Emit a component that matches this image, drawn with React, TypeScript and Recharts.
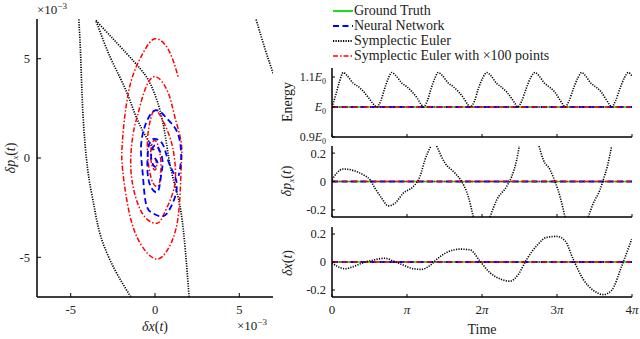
import React from "react";
import { LineChart, Line, XAxis, YAxis } from "recharts";

const FONT = '"Liberation Serif", "DejaVu Serif", serif';
const INK = "#222";
const GREEN = "#00dd00";
const BLUE = "#0000ff";
const RED = "#ff0000";
const BLACK = "#000";

// ---- phase plot (units of 1e-3), clockwise spirals ----
const nnPhase = [
  [0.0, 0.0], [0.15, -0.25], [0.02, -0.45], [-0.18, -0.2], [-0.22, 0.25], [-0.05, 0.62],
  [0.22, 0.45], [0.45, -0.15], [0.35, -0.95], [0.16, -1.69], [-0.25, -1.45], [-0.45, -0.6],
  [-0.4, 0.45], [-0.14, 0.95], [0.45, 0.7], [0.85, -0.3], [1.3, -1.4], [0.85, -2.61],
  [0.36, -2.95], [-0.14, -2.78], [-0.54, -2.28], [-0.73, -0.77], [-0.83, 0.57], [-0.54, 1.74],
  [0.06, 2.41], [0.75, 1.95], [1.35, 1.24], [1.55, 0.07], [1.4, -0.9],
];

const se100Phase = [
  [0.0, 0.0], [0.1, -0.35], [0.0, -0.6], [-0.2, -0.3], [-0.25, 0.35], [-0.1, 0.85],
  [0.15, 0.7], [0.35, -0.2], [0.3, -1.1], [0.16, -1.44], [-0.15, -1.2], [-0.4, -0.2],
  [-0.44, 1.0], [-0.25, 2.0], [0.0, 2.41], [0.4, 2.0], [0.9, 1.0], [1.15, 0.0],
  [1.15, -1.44], [0.55, -2.78], [0.16, -3.28], [-0.45, -3.1], [-1.03, -2.28], [-1.43, -0.6],
  [-1.3, 1.2], [-1.03, 2.16], [-0.64, 3.33], [0.0, 4.1], [0.76, 3.33], [1.15, 2.16],
  [1.55, 0.8], [1.55, -0.6], [1.35, -3.1], [0.76, -4.6], [0.12, -5.09], [-0.64, -4.6],
  [-1.43, -3.1], [-1.92, -0.6], [-1.95, 0.6], [-1.83, 1.82], [-1.43, 3.83], [-0.7, 5.3],
  [0.0, 6.0], [0.8, 5.45], [1.37, 4.1],
];

const sePhaseA = [[-0.06, 0.4], [-1.01, 1.86], [-1.73, 3.42], [-2.62, 5.01], [-3.51, 6.93]];
const sePhaseB = [[-3.51, 6.93], [-1.23, 4.84], [-0.24, 3.67], [0.46, 1.82], [0.95, -0.6], [1.55, -2.76], [2.02, -7.0]];
const sePhaseC = [[-4.52, 6.98], [-4.4, 4.92], [-4.27, 2.16], [-3.99, -0.6], [-3.62, -2.4], [-3.21, -3.97], [-2.4, -5.6], [-1.43, -7.0]];
const sePhaseD = [[6.0, 6.97], [6.55, 5.43], [7.05, 4.17]];

const phaseTicks = [-5, 0, 5];

// ---- time panels (time in units of pi) ----
const timeTicks = [0, 1, 2, 3, 4];
const timeLabels = ["0", "π", "2π", "3π", "4π"];

const truthTime = [0, 4];
const truthEnergy = [1, 1];
const truthDelta = [0, 0];

const seEnergyTime = [
  0, 0.05, 0.1, 0.151, 0.2, 0.28, 0.35, 0.42, 0.49, 0.55, 0.596,
  0.65, 0.7, 0.75, 0.796, 0.85, 0.93, 1.0, 1.07, 1.14, 1.19, 1.217,
  1.27, 1.32, 1.37, 1.417, 1.47, 1.55, 1.62, 1.69, 1.76, 1.81, 1.84,
  1.9, 1.95, 2.01, 2.063, 2.12, 2.19, 2.26, 2.33, 2.4, 2.45, 2.476,
  2.53, 2.59, 2.65, 2.707, 2.76, 2.83, 2.9, 2.97, 3.03, 3.08, 3.107,
  3.16, 3.22, 3.28, 3.329, 3.38, 3.45, 3.52, 3.59, 3.65, 3.7, 3.729,
  3.78, 3.84, 3.9, 3.951, 4.0,
];
const seEnergy = [
  1.0, 1.04, 1.085, 1.115, 1.105, 1.08, 1.068, 1.052, 1.03, 1.01, 1.0,
  1.02, 1.06, 1.095, 1.115, 1.105, 1.08, 1.067, 1.05, 1.028, 1.008, 1.0,
  1.02, 1.06, 1.095, 1.115, 1.105, 1.08, 1.067, 1.05, 1.028, 1.008, 1.0,
  1.02, 1.06, 1.097, 1.115, 1.104, 1.08, 1.066, 1.05, 1.027, 1.008, 1.0,
  1.02, 1.062, 1.098, 1.115, 1.104, 1.08, 1.066, 1.05, 1.027, 1.008, 1.0,
  1.02, 1.062, 1.098, 1.115, 1.104, 1.08, 1.066, 1.05, 1.027, 1.008, 1.0,
  1.02, 1.062, 1.098, 1.115, 1.103,
];

const seMomentumTime = [
  0, 0.063, 0.151, 0.284, 0.417, 0.507, 0.573, 0.663, 0.751, 0.84, 0.951, 1.084, 1.173, 1.24, 1.32,
  1.36,
  1.396, 1.507, 1.64, 1.729, 1.817, 1.884,
  2.0,
  2.107, 2.196, 2.329, 2.396, 2.463, 2.497,
  2.63,
  2.76, 2.817, 2.907, 2.973, 3.04, 3.107,
  3.26,
  3.417, 3.484, 3.573, 3.617, 3.671, 3.729,
];
const seMomentum = [
  0.012, 0.059, 0.088, 0.078, 0.047, 0.012, -0.047, -0.118, -0.172, -0.153, -0.082, -0.035, 0.035, 0.153, 0.25,
  null,
  0.25, 0.13, 0.059, 0.0, -0.106, -0.25,
  null,
  -0.25, -0.13, -0.035, 0.035, 0.153, 0.25,
  null,
  0.25, 0.153, 0.083, 0.0, -0.106, -0.25,
  null,
  -0.25, -0.153, -0.059, 0.012, 0.106, 0.25,
];

const sePositionTime = [
  0, 0.063, 0.173, 0.284, 0.417, 0.551, 0.707, 0.817, 0.951, 1.084, 1.196, 1.307, 1.396, 1.529,
  1.707, 1.84, 1.973, 2.107, 2.263, 2.373, 2.484, 2.596, 2.729, 2.863, 2.996, 3.107, 3.217,
  3.351, 3.484, 3.617, 3.729, 3.863, 3.996,
];
const sePosition = [
  -0.005, -0.029, -0.048, -0.033, -0.005, 0.014, 0.027, 0.007, -0.022, -0.048, -0.053, -0.024, 0.019, 0.068,
  0.092, 0.087, 0.007, -0.077, -0.125, -0.137, -0.089, 0.019, 0.116, 0.176, 0.183, 0.152, 0.019,
  -0.125, -0.202, -0.233, -0.202, -0.029, 0.164,
];

const deltaTicks = [-0.2, 0, 0.2];
const energyTicks = [0.9, 1.0, 1.1];

const toXY = (pts: number[][]) => pts.map(([x, y]) => ({ x, y }));
const toTV = (ts: number[], vs: (number | null)[]) => ts.map((t, i) => ({ t, v: vs[i] }));

const DOT = "1.2 1.3";
const DASH = "6 3.5";
const DASHDOT = "5 2 1.5 2";

const axisStroke = { stroke: "#000", strokeWidth: 1.5 };
const tickStroke = { stroke: "#000", strokeWidth: 1 };

function PiTick({ x, y, payload, show }: any) {
  if (!show) return null;
  const i = timeTicks.indexOf(payload.value);
  const label = timeLabels[i] ?? "";
  const num = label.replace("π", "");
  const hasPi = label.includes("π");
  return (
    <text x={x} y={y} dy="0.71em" textAnchor="middle" fontSize={13} fill={INK} fontFamily={FONT}>
      {num}
      {hasPi && <tspan fontStyle="italic">π</tspan>}
    </text>
  );
}

function EnergyTick({ x, y, payload }: any) {
  const v = payload.value;
  const prefix = v === 1 ? "" : v.toFixed(1);
  return (
    <text x={x} y={y} dy={4} textAnchor="end" fontSize={12} fill={INK} fontFamily={FONT}>
      {prefix}
      <tspan fontStyle="italic">E</tspan>
      <tspan fontSize={8} dy={3}>0</tspan>
    </text>
  );
}

function flatLines(values: number[]) {
  const d = toTV(truthTime, values);
  return [
    <Line key="gt" data={d} dataKey="v" stroke={GREEN} strokeWidth={1.6} dot={false} isAnimationActive={false} />,
    <Line key="nn" data={d} dataKey="v" stroke={BLUE} strokeWidth={1.8} strokeDasharray={DASH} dot={false} isAnimationActive={false} />,
    <Line key="se100" data={d} dataKey="v" stroke={RED} strokeWidth={1.4} strokeDasharray={DASHDOT} dot={false} isAnimationActive={false} />,
  ];
}

const Label = ({ style, children }: { style: React.CSSProperties; children: React.ReactNode }) => (
  <div style={{ position: "absolute", whiteSpace: "nowrap", fontFamily: FONT, color: INK, lineHeight: 1, ...style }}>{children}</div>
);

const legendItems = [
  { name: "Ground Truth", color: GREEN, dash: undefined as string | undefined, width: 1.8 },
  { name: "Neural Network", color: BLUE, dash: DASH, width: 2 },
  { name: "Symplectic Euler", color: BLACK, dash: DOT, width: 1.8 },
  { name: "Symplectic Euler with ×100 points", color: RED, dash: DASHDOT, width: 1.6 },
];

export default function App() {
  const xAxisTime = (labels: boolean, height: number) => (
    <XAxis
      dataKey="t"
      type="number"
      domain={[0, 4]}
      ticks={timeTicks}
      allowDataOverflow
      height={height}
      axisLine={axisStroke}
      tickLine={tickStroke}
      tickSize={-3}
      tickMargin={labels ? 11 : 0}
      tick={(p: any) => <PiTick {...p} show={labels} />}
      interval={0}
    />
  );
  const yAxisDelta = (
    <YAxis
      type="number"
      domain={[-0.25, 0.25]}
      ticks={deltaTicks}
      allowDataOverflow
      width={40}
      axisLine={axisStroke}
      tickLine={tickStroke}
      tickSize={-3}
      tickMargin={9}
      tick={{ fontSize: 12.5, fill: INK, fontFamily: FONT }}
      tickFormatter={(v: number) => (v === 0 ? "0" : v.toFixed(1))}
      interval={0}
    />
  );

  return (
    <div style={{ position: "absolute", left: 0, top: 0, width: 640, height: 339, background: "#fff", fontFamily: FONT }}>
      {/* phase portrait */}
      <div style={{ position: "absolute", left: 0, top: 0 }}>
        <LineChart width={300} height={339} margin={{ top: 19, right: 27, bottom: 22, left: 12 }}>
          <XAxis
            dataKey="x"
            type="number"
            domain={[-7, 7]}
            ticks={phaseTicks}
            allowDataOverflow
            height={20}
            axisLine={axisStroke}
            tickLine={tickStroke}
            tickSize={-4}
            tickMargin={12}
            tick={{ fontSize: 12.5, fill: INK, fontFamily: FONT }}
            interval={0}
          />
          <YAxis
            dataKey="y"
            type="number"
            domain={[-7, 7]}
            ticks={phaseTicks}
            allowDataOverflow
            width={25}
            axisLine={axisStroke}
            tickLine={tickStroke}
            tickSize={-4}
            tickMargin={11}
            tick={{ fontSize: 12.5, fill: INK, fontFamily: FONT }}
            interval={0}
          />
          {[sePhaseA, sePhaseB, sePhaseC, sePhaseD].map((seg, i) => (
            <Line key={"se" + i} data={toXY(seg)} dataKey="y" type="natural" stroke={BLACK} strokeWidth={1.7} strokeDasharray={DOT} dot={false} isAnimationActive={false} />
          ))}
          <Line data={toXY(se100Phase)} dataKey="y" type="natural" stroke={RED} strokeWidth={1.5} strokeDasharray={DASHDOT} dot={false} isAnimationActive={false} />
          <Line data={toXY(nnPhase)} dataKey="y" type="natural" stroke={BLUE} strokeWidth={1.8} strokeDasharray={DASH} dot={false} isAnimationActive={false} />
        </LineChart>
      </div>

      {/* energy */}
      <div style={{ position: "absolute", left: 280, top: 60 }}>
        <LineChart width={360} height={92} margin={{ top: 8, right: 8, bottom: 10, left: 12 }}>
          {xAxisTime(false, 5)}
          <YAxis
            type="number"
            domain={[0.9, 1.13]}
            ticks={energyTicks}
            allowDataOverflow
            width={40}
            axisLine={axisStroke}
            tickLine={tickStroke}
            tickSize={-3}
            tickMargin={9}
            tick={(p: any) => <EnergyTick {...p} />}
            interval={0}
          />
          {flatLines(truthEnergy)}
          <Line data={toTV(seEnergyTime, seEnergy)} dataKey="v" type="monotone" stroke={BLACK} strokeWidth={1.6} strokeDasharray={DOT} dot={false} isAnimationActive={false} />
        </LineChart>
      </div>

      {/* momentum deviation */}
      <div style={{ position: "absolute", left: 280, top: 138 }}>
        <LineChart width={360} height={84} margin={{ top: 8, right: 8, bottom: 0, left: 12 }}>
          {xAxisTime(false, 5)}
          {yAxisDelta}
          {flatLines(truthDelta)}
          <Line data={toTV(seMomentumTime, seMomentum)} dataKey="v" type="monotone" stroke={BLACK} strokeWidth={1.6} strokeDasharray={DOT} dot={false} isAnimationActive={false} />
        </LineChart>
      </div>

      {/* position deviation */}
      <div style={{ position: "absolute", left: 280, top: 219 }}>
        <LineChart width={360} height={98} margin={{ top: 8, right: 8, bottom: 0, left: 12 }}>
          {xAxisTime(true, 20)}
          {yAxisDelta}
          {flatLines(truthDelta)}
          <Line data={toTV(sePositionTime, sePosition)} dataKey="v" type="monotone" stroke={BLACK} strokeWidth={1.6} strokeDasharray={DOT} dot={false} isAnimationActive={false} />
        </LineChart>
      </div>

      {/* legend */}
      {legendItems.map((it, i) => (
        <div key={it.name} style={{ position: "absolute", left: 333, top: 4 + i * 15, height: 14, display: "flex", alignItems: "center" }}>
          <svg width={20} height={14} style={{ display: "block" }}>
            <line x1={0} y1={7} x2={20} y2={7} stroke={it.color} strokeWidth={it.width} strokeDasharray={it.dash} />
          </svg>
          <span style={{ fontFamily: FONT, fontSize: 14, color: INK, marginLeft: 1 }}>{it.name}</span>
        </div>
      ))}

      {/* text labels */}
      <Label style={{ left: 37, top: 2, fontSize: 13 }}>
        ×10<sup style={{ fontSize: 9 }}>−3</sup>
      </Label>
      <Label style={{ left: 237, top: 318, fontSize: 13 }}>
        ×10<sup style={{ fontSize: 9 }}>−3</sup>
      </Label>
      <Label style={{ left: 155, top: 327, fontSize: 14, transform: "translate(-50%, -50%)" }}>
        <i>δx</i>(<i>t</i>)
      </Label>
      <Label style={{ left: 12, top: 158, fontSize: 14, transform: "translate(-50%, -50%) rotate(-90deg)" }}>
        <i>δp</i><sub style={{ fontSize: 9 }}><i>x</i></sub>(<i>t</i>)
      </Label>
      <Label style={{ left: 288, top: 102, fontSize: 14, transform: "translate(-50%, -50%) rotate(-90deg)" }}>Energy</Label>
      <Label style={{ left: 288, top: 181, fontSize: 14, transform: "translate(-50%, -50%) rotate(-90deg)" }}>
        <i>δp</i><sub style={{ fontSize: 9 }}><i>x</i></sub>(<i>t</i>)
      </Label>
      <Label style={{ left: 288, top: 263, fontSize: 14, transform: "translate(-50%, -50%) rotate(-90deg)" }}>
        <i>δx</i>(<i>t</i>)
      </Label>
      <Label style={{ left: 482, top: 330, fontSize: 14, transform: "translate(-50%, -50%)" }}>Time</Label>
    </div>
  );
}
